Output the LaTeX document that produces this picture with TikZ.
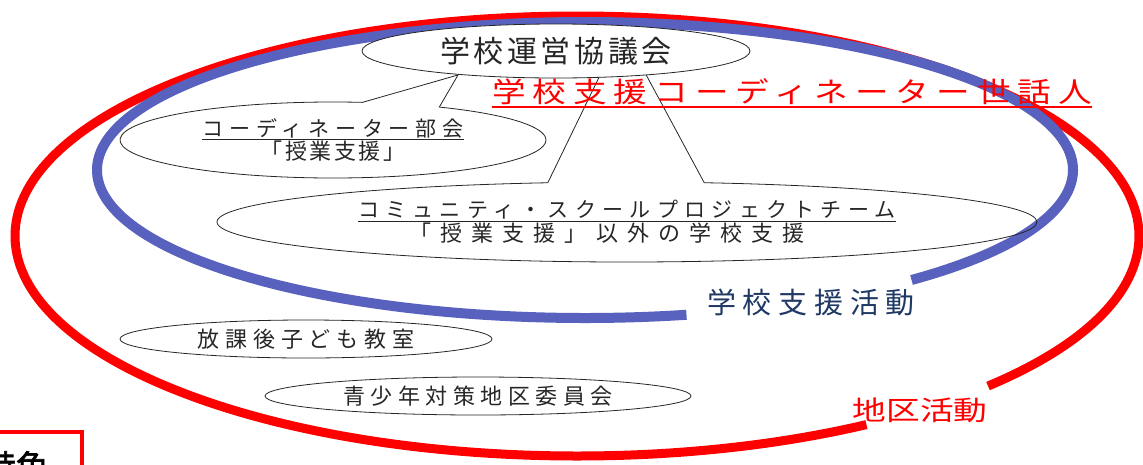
\documentclass[tikz,border=0pt]{standalone}
\usepackage{fontspec}
\setmainfont{Noto Sans CJK JP}
\usetikzlibrary{shapes.geometric}
\usetikzlibrary{shapes.callouts}

\definecolor{bandblue}{RGB}{88,98,190}
\definecolor{navy}{RGB}{31,56,100}
\definecolor{inkgray}{gray}{0.15}

\newcommand\jsize[3]{\fontsize{#1}{#2}\selectfont\addfontfeature{LetterSpace=#3}}
\newcommand\uline[1]{\setbox0=\hbox{#1}\rlap{\rule[-0.2em]{\wd0}{0.06em}}\box0}

\begin{document}
\begin{tikzpicture}[x=1pt, y=-1pt,
    bubble/.style={ellipse callout, draw=inkgray, line width=0.8pt, inner sep=0pt,
        callout pointer arc=22, align=center, text=inkgray},
    oval/.style={ellipse, draw=inkgray, line width=0.8pt, inner sep=0pt, text=inkgray}]

    \useasboundingbox (0,0) rectangle (1143,464);
    \clip (0,0) rectangle (1143,464);

    % district ring and school ring
    \draw[red, line width=9pt] (577,236) ++(317:562pt and 220pt)
        arc[start angle=317, end angle=661, x radius=562pt, y radius=220pt];
    \draw[bandblue, line width=10pt] (585,170) ++(312:488pt and 148pt)
        arc[start angle=312, end angle=642, x radius=488pt, y radius=148pt];

    \coordinate (coordtip) at (458,75);
    \coordinate (teamtip) at (622,30);

    \node[bubble, minimum width=426pt, minimum height=76pt,
        callout absolute pointer=(coordtip)] (coordinator) at (333,140)
        {\jsize{21}{28}{28}\uline{コーディネーター部会}\\
         \jsize{22}{28}{12}「授業支援」};
    \node[bubble, minimum width=820pt, minimum height=80pt,
        callout absolute pointer=(teamtip)] (team) at (627,222)
        {\jsize{21}{28}{30}\uline{コミュニティ・スクールプロジェクトチーム}\\
         \jsize{22}{28}{41}「授業支援」以外の学校支援\hspace*{40pt}};

    \node[oval, fill=white, minimum width=388pt, minimum height=54pt] (council) at (556,51)
        {\jsize{30}{30}{12}学校運営協議会};

    \node[oval, minimum width=372pt, minimum height=38pt] (afterschool) at (306,339)
        {\jsize{22}{22}{27}放課後子ども教室};
    \node[oval, minimum width=426pt, minimum height=38pt] (youth) at (478,396)
        {\jsize{22}{22}{25}青少年対策地区委員会};

    \node[text=red, anchor=base] (helper) at (792,102)
        {\jsize{28}{28}{25}\addfontfeature{FakeStretch=1.2}\uline{学校支援コーディネーター世話人}};
    \node[text=navy] (schoolact) at (811,302) {\jsize{29}{29}{23}学校支援活動};
    \node[text=red] (districtact) at (920,410)
        {\jsize{27}{27}{0}\addfontfeature{FakeStretch=1.25}地区活動};

    \node[draw=red, line width=4pt, minimum width=132pt, minimum height=68pt] (feature) at (16,466)
        {\jsize{32}{32}{0}\addfontfeature{FakeBold=2}特色};
\end{tikzpicture}
\end{document}
